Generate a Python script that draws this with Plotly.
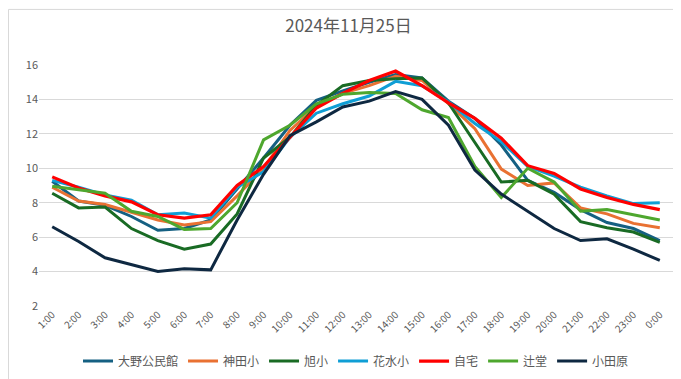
import plotly.graph_objects as go

hours = ["1:00", "2:00", "3:00", "4:00", "5:00", "6:00", "7:00", "8:00", "9:00", "10:00",
         "11:00", "12:00", "13:00", "14:00", "15:00", "16:00", "17:00", "18:00", "19:00",
         "20:00", "21:00", "22:00", "23:00", "0:00"]

ono = [9.25, 8.1, 7.85, 7.2, 6.4, 6.5, 7.0, 8.8, 10.6, 12.5, 13.95, 14.5, 15.0, 15.45, 15.25,
       13.9, 12.9, 11.35, 9.3, 8.6, 7.6, 6.85, 6.5, 5.8]
kanda = [8.9, 8.1, 7.9, 7.45, 7.0, 6.7, 6.9, 8.4, 10.0, 12.2, 13.6, 14.35, 14.8, 15.35, 15.1,
         13.75, 12.3, 9.95, 9.0, 9.15, 7.7, 7.35, 6.8, 6.55]
asahi = [8.55, 7.7, 7.75, 6.5, 5.8, 5.3, 5.6, 7.35, 10.6, 11.8, 13.65, 14.8, 15.1, 15.2, 15.25,
         13.8, 11.5, 9.2, 9.3, 8.5, 6.9, 6.55, 6.3, 5.7]
hanamizu = [9.3, 8.9, 8.45, 8.15, 7.3, 7.4, 7.1, 8.9, 9.8, 11.8, 13.2, 13.75, 14.2, 15.05, 14.8,
            13.85, 12.6, 11.55, 10.1, 9.55, 8.9, 8.4, 7.95, 8.0]
jitaku = [9.5, 8.85, 8.4, 8.05, 7.3, 7.1, 7.3, 9.0, 10.1, 11.8, 13.5, 14.35, 15.1, 15.65, 14.8,
          13.8, 12.9, 11.75, 10.15, 9.7, 8.8, 8.3, 7.9, 7.6]
tsujido = [8.95, 8.75, 8.55, 7.5, 7.2, 6.45, 6.5, 8.0, 11.65, 12.5, 13.75, 14.3, 14.4, 14.35, 13.4,
           12.95, 10.1, 8.3, 10.0, 9.2, 7.5, 7.6, 7.3, 7.0]
odawara = [6.6, 5.75, 4.8, 4.42, 4.0, 4.17, 4.1, 7.0, 9.65, 11.9, 12.7, 13.56, 13.9, 14.45, 14.0,
           12.5, 9.9, 8.5, 7.5, 6.5, 5.8, 5.9, 5.3, 4.65]

series_names = ["大野公民館", "神田小", "旭小", "花水小", "自宅", "辻堂", "小田原"]
series_values = [ono, kanda, asahi, hanamizu, jitaku, tsujido, odawara]
series_colors = ["#156082", "#E97132", "#196B24", "#0F9ED5", "#FF0000", "#4EA72E", "#0E2841"]
title_text = "2024年11月25日"

FONT = "Noto Sans CJK JP"
W, H = 681, 379
ML, MR, MT, MB = 31, 16, 57, 77

fig = go.Figure()
for name, vals, col in zip(series_names, series_values, series_colors):
    fig.add_trace(go.Scatter(x=hours, y=vals, name=name, mode="lines",
                             line=dict(color=col, width=3.2 if name == "自宅" else 3)))

pw = W - ML - MR
ph = H - MT - MB
fig.add_shape(type="rect", xref="paper", yref="paper",
              x0=-(ML - 0.5) / pw, x1=1 + (MR - 0.5) / pw,
              y0=-(MB - 0.5) / ph, y1=1 + (MT - 0.5) / ph,
              line=dict(color="#d9d9d9", width=1), fillcolor="rgba(0,0,0,0)", layer="below")

fig.update_layout(
    width=W, height=H,
    margin=dict(l=ML, r=MR, t=MT, b=MB),
    paper_bgcolor="white", plot_bgcolor="white",
    font=dict(family=FONT, color="#595959", size=11),
    title=dict(text=title_text, x=0.5, xanchor="center", y=1 - 18 / H, yanchor="middle",
               font=dict(family=FONT, size=17, color="#595959")),
    showlegend=True,
    legend=dict(orientation="h", x=0.5, xanchor="center", y=-(358 - (H - MB)) / ph,
                yanchor="middle", font=dict(family=FONT, size=12, color="#595959"),
                itemwidth=30, tracegroupgap=0),
    xaxis=dict(type="category", range=[-0.5, 23.5], showgrid=False, zeroline=False,
               showline=False, ticks="", tickangle=-45,
               tickfont=dict(family=FONT, size=10, color="#595959")),
    yaxis=dict(range=[2, 16], dtick=2, tick0=2, showgrid=True, gridcolor="#d9d9d9",
               gridwidth=1, zeroline=False, showline=False, ticks="",
               tickfont=dict(family=FONT, size=11, color="#595959")),
)

fig.write_html("out.html")
